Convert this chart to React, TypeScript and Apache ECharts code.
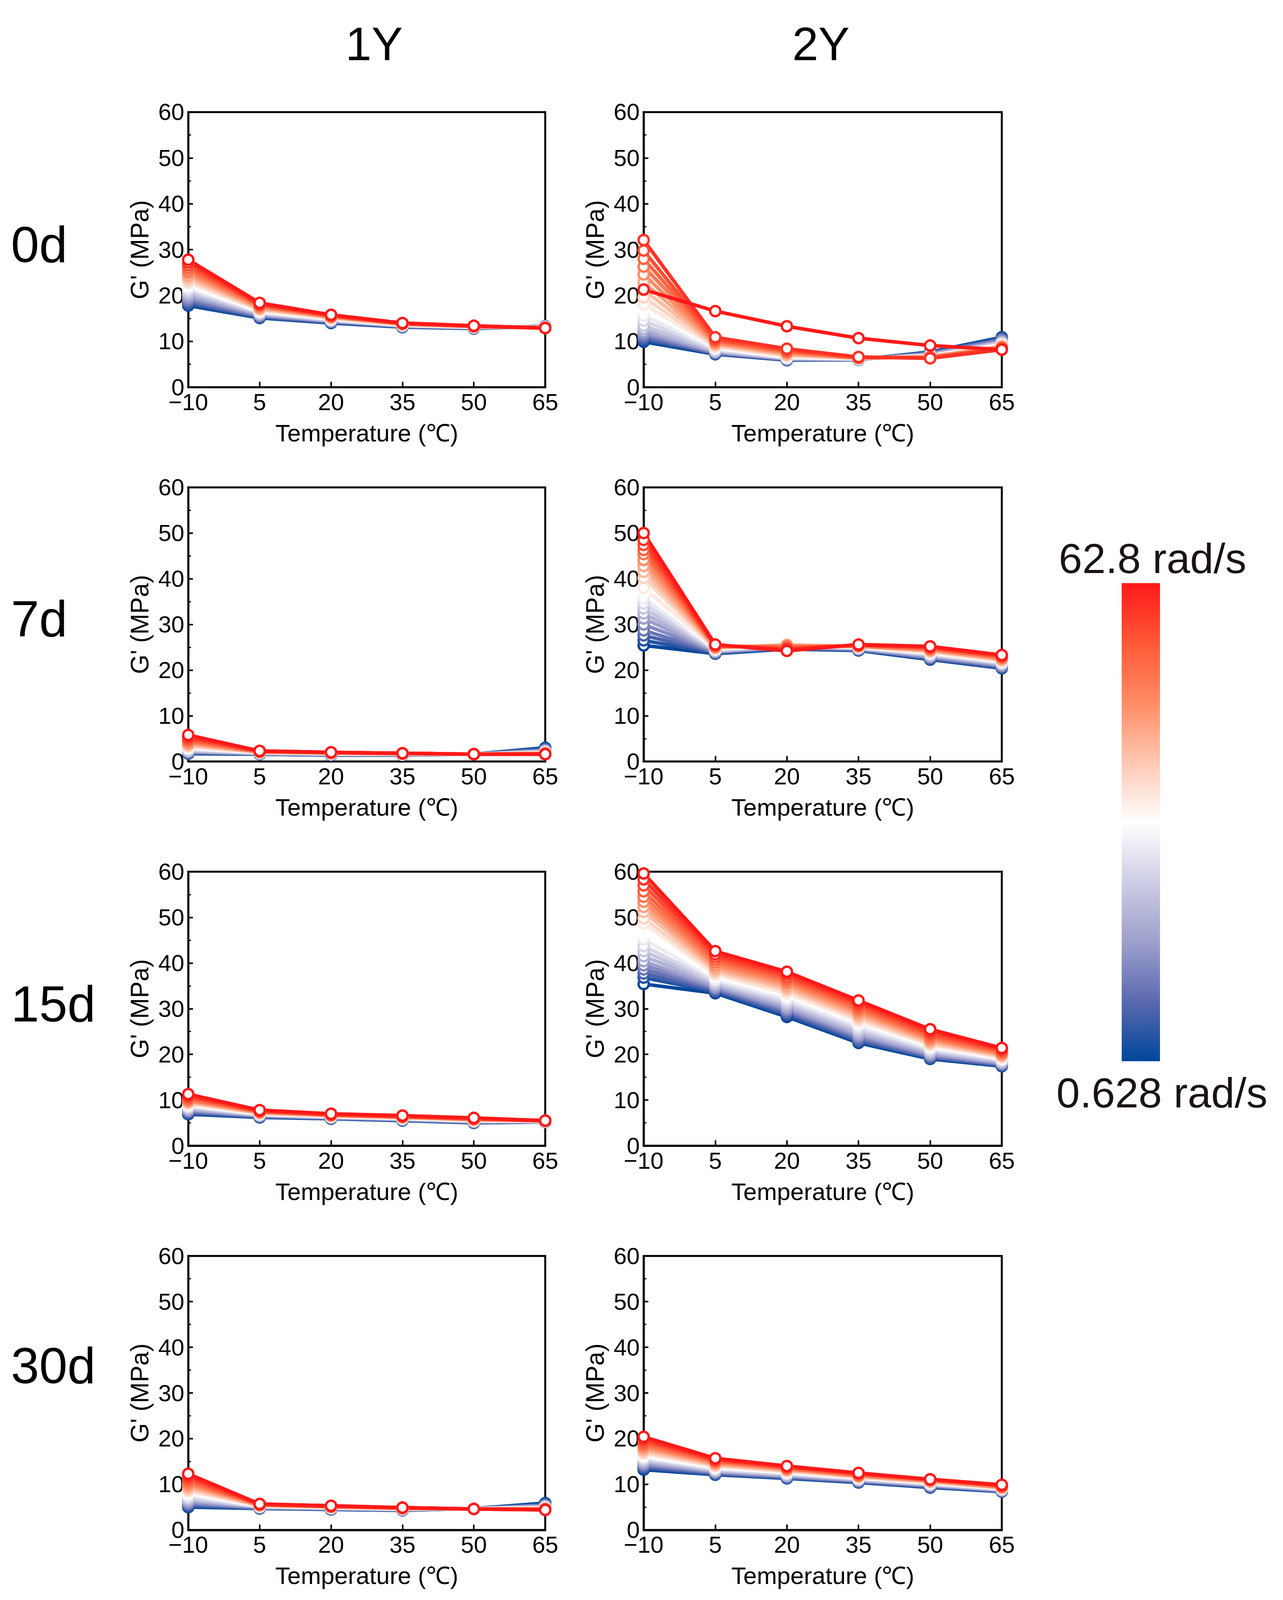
import React, { useEffect, useRef } from 'react';
import * as echarts from 'echarts';

// temperatures (°C) shown on every x axis
const temps = ['\u221210', '5', '20', '35', '50', '65'];
// 21 angular frequencies, 0.628 -> 62.8 rad/s (index 0 = blue, 20 = red)
const N_FREQ = 21;

// each panel: one row per temperature, 21 values (0.628 ... 62.8 rad/s)
const g1Y_0d = [
  [17.8, 18.1, 18.5, 18.9, 19.4, 19.8, 20.3, 20.7, 21.2, 21.6, 22.1, 22.7, 23.2, 23.8, 24.3, 24.9, 25.4, 26.0, 26.6, 27.2, 27.8],
  [15.1, 15.2, 15.4, 15.5, 15.7, 15.8, 16.0, 16.1, 16.3, 16.4, 16.6, 16.8, 16.9, 17.1, 17.3, 17.5, 17.7, 17.9, 18.0, 18.2, 18.4],
  [14.0, 14.1, 14.2, 14.3, 14.4, 14.5, 14.5, 14.6, 14.7, 14.8, 14.9, 15.0, 15.1, 15.2, 15.3, 15.4, 15.4, 15.5, 15.6, 15.7, 15.8],
  [13.1, 13.2, 13.2, 13.3, 13.3, 13.4, 13.4, 13.4, 13.5, 13.5, 13.6, 13.6, 13.7, 13.7, 13.8, 13.8, 13.8, 13.9, 13.9, 14.0, 14.0],
  [12.8, 12.9, 12.9, 12.9, 13.0, 13.0, 13.0, 13.1, 13.1, 13.1, 13.1, 13.2, 13.2, 13.2, 13.2, 13.3, 13.3, 13.3, 13.3, 13.4, 13.4],
  [13.3, 13.3, 13.3, 13.2, 13.2, 13.2, 13.2, 13.1, 13.1, 13.1, 13.1, 13.1, 13.0, 13.0, 13.0, 13.0, 13.0, 12.9, 12.9, 12.9, 12.9],
];
const g2Y_0d = [
  [9.9, 10.3, 10.7, 11.1, 11.6, 12.1, 12.7, 13.4, 14.5, 15.6, 16.9, 18.1, 19.6, 21.2, 22.9, 24.6, 26.3, 28.0, 29.8, 32.1, 21.3],
  [7.2, 7.3, 7.4, 7.5, 7.6, 7.7, 7.9, 8.0, 8.2, 8.4, 8.6, 8.8, 9.0, 9.3, 9.5, 9.7, 10.0, 10.2, 10.5, 10.9, 16.6],
  [5.9, 6.0, 6.0, 6.1, 6.1, 6.2, 6.3, 6.3, 6.4, 6.5, 6.6, 6.8, 6.9, 7.1, 7.3, 7.5, 7.7, 7.9, 8.1, 8.4, 13.3],
  [6.0, 6.0, 6.0, 6.0, 6.1, 6.1, 6.1, 6.1, 6.2, 6.2, 6.2, 6.3, 6.3, 6.3, 6.4, 6.4, 6.4, 6.5, 6.5, 6.6, 10.7],
  [7.7, 7.6, 7.5, 7.4, 7.3, 7.2, 7.1, 7.0, 6.9, 6.9, 6.8, 6.8, 6.7, 6.7, 6.6, 6.6, 6.5, 6.5, 6.4, 6.3, 9.1],
  [10.9, 10.7, 10.5, 10.3, 10.1, 9.9, 9.8, 9.6, 9.5, 9.3, 9.2, 9.1, 9.0, 8.9, 8.8, 8.7, 8.6, 8.5, 8.4, 8.2, 8.2],
];
const g1Y_7d = [
  [1.7, 1.8, 1.9, 2.0, 2.1, 2.2, 2.3, 2.5, 2.6, 2.8, 3.0, 3.2, 3.4, 3.6, 3.9, 4.1, 4.4, 4.7, 5.0, 5.4, 5.8],
  [1.6, 1.6, 1.7, 1.7, 1.7, 1.8, 1.8, 1.8, 1.9, 1.9, 1.9, 2.0, 2.0, 2.0, 2.1, 2.1, 2.1, 2.2, 2.2, 2.3, 2.3],
  [1.4, 1.4, 1.5, 1.5, 1.5, 1.6, 1.6, 1.6, 1.7, 1.7, 1.7, 1.8, 1.8, 1.8, 1.8, 1.9, 1.9, 1.9, 2.0, 2.0, 2.0],
  [1.4, 1.4, 1.4, 1.5, 1.5, 1.5, 1.5, 1.6, 1.6, 1.6, 1.6, 1.6, 1.7, 1.7, 1.7, 1.7, 1.7, 1.8, 1.8, 1.8, 1.8],
  [1.6, 1.6, 1.6, 1.6, 1.6, 1.6, 1.6, 1.6, 1.6, 1.6, 1.6, 1.6, 1.6, 1.6, 1.6, 1.6, 1.6, 1.6, 1.6, 1.6, 1.6],
  [3.0, 2.8, 2.6, 2.5, 2.4, 2.3, 2.2, 2.1, 2.0, 2.0, 1.9, 1.9, 1.8, 1.8, 1.8, 1.7, 1.7, 1.7, 1.6, 1.6, 1.6],
];
const g2Y_7d = [
  [25.4, 26.5, 27.6, 28.7, 30.0, 31.3, 32.4, 33.5, 34.6, 35.7, 37.1, 38.0, 40.2, 41.5, 42.8, 44.1, 45.4, 46.3, 47.4, 48.5, 50.0],
  [23.6, 23.7, 23.8, 23.9, 24.0, 24.1, 24.2, 24.3, 24.4, 24.5, 24.6, 24.7, 24.8, 24.9, 25.0, 25.1, 25.2, 25.3, 25.4, 25.5, 25.6],
  [24.6, 24.7, 24.8, 24.9, 25.0, 25.1, 25.2, 25.3, 25.4, 25.5, 25.6, 25.6, 25.6, 25.5, 25.4, 25.3, 25.1, 24.9, 24.7, 24.5, 24.2],
  [24.3, 24.4, 24.5, 24.5, 24.6, 24.7, 24.8, 24.8, 24.9, 25.0, 25.0, 25.1, 25.1, 25.2, 25.2, 25.3, 25.3, 25.4, 25.5, 25.5, 25.6],
  [22.3, 22.4, 22.6, 22.7, 22.9, 23.0, 23.2, 23.3, 23.5, 23.6, 23.8, 23.9, 24.1, 24.2, 24.3, 24.5, 24.6, 24.8, 24.9, 25.1, 25.2],
  [20.4, 20.5, 20.7, 20.8, 21.0, 21.1, 21.3, 21.4, 21.6, 21.7, 21.9, 22.0, 22.1, 22.3, 22.4, 22.6, 22.7, 22.9, 23.0, 23.2, 23.3],
];
const g1Y_15d = [
  [6.9, 7.1, 7.3, 7.5, 7.7, 7.9, 8.1, 8.3, 8.5, 8.7, 8.9, 9.1, 9.3, 9.5, 9.7, 9.9, 10.1, 10.4, 10.7, 11.0, 11.3],
  [6.2, 6.3, 6.4, 6.5, 6.5, 6.6, 6.7, 6.8, 6.8, 6.9, 7.0, 7.1, 7.1, 7.2, 7.3, 7.4, 7.4, 7.5, 7.6, 7.7, 7.8],
  [5.9, 6.0, 6.0, 6.1, 6.1, 6.2, 6.2, 6.3, 6.3, 6.4, 6.4, 6.5, 6.5, 6.6, 6.6, 6.7, 6.7, 6.8, 6.8, 6.9, 7.0],
  [5.5, 5.6, 5.6, 5.7, 5.7, 5.8, 5.8, 5.9, 5.9, 6.0, 6.0, 6.1, 6.1, 6.2, 6.2, 6.3, 6.3, 6.4, 6.4, 6.5, 6.6],
  [5.0, 5.1, 5.1, 5.2, 5.2, 5.3, 5.3, 5.4, 5.4, 5.5, 5.5, 5.6, 5.6, 5.7, 5.7, 5.8, 5.8, 5.9, 5.9, 6.0, 6.1],
  [5.2, 5.2, 5.2, 5.2, 5.3, 5.3, 5.3, 5.3, 5.3, 5.3, 5.4, 5.4, 5.4, 5.4, 5.4, 5.4, 5.5, 5.5, 5.5, 5.5, 5.5],
];
const g2Y_15d = [
  [35.4, 36.8, 37.7, 38.6, 39.5, 40.4, 41.5, 42.6, 43.7, 45.2, 46.3, 48.7, 49.8, 51.2, 52.3, 53.4, 54.5, 55.7, 57.0, 58.3, 59.6],
  [33.4, 33.7, 34.0, 34.3, 34.6, 34.9, 35.3, 35.6, 36.0, 36.4, 36.9, 37.4, 37.9, 38.4, 38.9, 39.5, 40.1, 40.7, 41.3, 41.9, 42.6],
  [28.2, 28.6, 29.0, 29.4, 29.8, 30.2, 30.7, 31.1, 31.6, 32.1, 32.7, 33.3, 33.9, 34.4, 34.9, 35.5, 36.0, 36.5, 37.0, 37.6, 38.1],
  [22.5, 22.8, 23.1, 23.5, 23.9, 24.3, 24.7, 25.2, 25.7, 26.2, 26.8, 27.3, 27.8, 28.3, 28.8, 29.3, 29.8, 30.3, 30.8, 31.3, 31.8],
  [19.0, 19.2, 19.4, 19.6, 19.9, 20.1, 20.4, 20.7, 21.0, 21.3, 21.7, 22.0, 22.3, 22.6, 23.0, 23.3, 23.7, 24.1, 24.5, 25.0, 25.5],
  [17.4, 17.5, 17.7, 17.8, 18.0, 18.1, 18.3, 18.5, 18.7, 18.9, 19.1, 19.3, 19.5, 19.7, 19.9, 20.1, 20.4, 20.6, 20.9, 21.1, 21.4],
];
const g1Y_30d = [
  [5.0, 5.2, 5.5, 5.7, 6.0, 6.3, 6.6, 6.9, 7.2, 7.6, 8.0, 8.4, 8.8, 9.2, 9.6, 10.0, 10.4, 10.8, 11.3, 11.8, 12.3],
  [4.7, 4.8, 4.8, 4.9, 4.9, 5.0, 5.0, 5.1, 5.1, 5.2, 5.2, 5.3, 5.3, 5.4, 5.4, 5.5, 5.5, 5.6, 5.6, 5.7, 5.7],
  [4.5, 4.5, 4.6, 4.6, 4.7, 4.7, 4.8, 4.8, 4.8, 4.9, 4.9, 5.0, 5.0, 5.0, 5.1, 5.1, 5.1, 5.2, 5.2, 5.3, 5.3],
  [4.3, 4.3, 4.4, 4.4, 4.4, 4.5, 4.5, 4.5, 4.6, 4.6, 4.6, 4.7, 4.7, 4.7, 4.7, 4.8, 4.8, 4.8, 4.9, 4.9, 4.9],
  [4.7, 4.7, 4.7, 4.7, 4.7, 4.7, 4.7, 4.7, 4.7, 4.7, 4.6, 4.6, 4.6, 4.6, 4.6, 4.6, 4.6, 4.6, 4.6, 4.6, 4.6],
  [5.9, 5.7, 5.5, 5.4, 5.3, 5.2, 5.1, 5.0, 4.9, 4.9, 4.8, 4.8, 4.7, 4.7, 4.6, 4.6, 4.5, 4.5, 4.5, 4.4, 4.4],
];
const g2Y_30d = [
  [13.2, 13.5, 13.8, 14.1, 14.4, 14.7, 15.0, 15.3, 15.6, 15.9, 16.2, 16.6, 17.0, 17.4, 17.8, 18.2, 18.6, 19.0, 19.5, 19.9, 20.4],
  [12.1, 12.2, 12.4, 12.5, 12.7, 12.8, 13.0, 13.1, 13.3, 13.5, 13.7, 13.9, 14.1, 14.3, 14.5, 14.7, 14.9, 15.1, 15.3, 15.5, 15.7],
  [11.3, 11.4, 11.5, 11.6, 11.8, 11.9, 12.0, 12.2, 12.3, 12.5, 12.6, 12.8, 12.9, 13.1, 13.2, 13.4, 13.5, 13.6, 13.8, 13.9, 14.0],
  [10.4, 10.5, 10.6, 10.7, 10.8, 10.9, 11.0, 11.1, 11.2, 11.3, 11.4, 11.5, 11.6, 11.7, 11.8, 11.9, 12.0, 12.1, 12.3, 12.4, 12.5],
  [9.3, 9.4, 9.5, 9.6, 9.7, 9.8, 9.9, 10.0, 10.1, 10.2, 10.3, 10.4, 10.5, 10.6, 10.7, 10.8, 10.9, 11.0, 11.0, 11.1, 11.1],
  [8.4, 8.5, 8.5, 8.6, 8.7, 8.7, 8.8, 8.9, 8.9, 9.0, 9.1, 9.1, 9.2, 9.3, 9.3, 9.4, 9.5, 9.6, 9.7, 9.8, 9.9],
];

const columnTitles = ['1Y', '2Y'];
const rowTitles = ['0d', '7d', '15d', '30d'];
const panels = [
  [g1Y_0d, g2Y_0d],
  [g1Y_7d, g2Y_7d],
  [g1Y_15d, g2Y_15d],
  [g1Y_30d, g2Y_30d],
];

const W = 3285;
const H = 4297;
const FONT = '"Liberation Sans", Arial, Helvetica, sans-serif';

// layout in page pixels (for a 4297 px tall page)
const colLeft = [482, 1648];
const colWidth = [914, 917];
const rowTop = [301, 1309, 2341, 3373];
const rowHeight = [739, 736, 736, 736];
const colTitleX = [958, 2102];
const rowTitleY = [657, 1662, 2696, 3668];

// colour map of the colour bar, blue (0) -> white -> red (1)
const cmap: [number, number[]][] = [
  [0, [0, 70, 155]],
  [0.125, [90, 105, 175]],
  [0.25, [158, 160, 205]],
  [0.375, [205, 205, 228]],
  [0.5, [255, 255, 255]],
  [0.625, [255, 200, 178]],
  [0.75, [255, 140, 100]],
  [0.875, [255, 88, 55]],
  [1, [255, 25, 25]],
];

const colorAt = (t: number) => {
  for (let k = 1; k < cmap.length; k++) {
    if (t <= cmap[k][0]) {
      const [t0, c0] = cmap[k - 1];
      const [t1, c1] = cmap[k];
      const f = (t - t0) / (t1 - t0);
      const c = c0.map((v, j) => Math.round(v + (c1[j] - v) * f));
      return `rgb(${c[0]},${c[1]},${c[2]})`;
    }
  }
  return 'rgb(255,25,25)';
};

// the window only shows 4096 px of height, so squeeze the layout vertically to fit
const fitY = () => Math.min(1, (window.innerHeight || H) / H);

const App: React.FC = () => {
  const chartRef = useRef<HTMLDivElement | null>(null);
  const sy = fitY();

  useEffect(() => {
    document.body.style.margin = '0';
    if (!chartRef.current) return;
    const chart = echarts.init(chartRef.current, undefined, { renderer: 'svg' });

    const grids: any[] = [];
    const xAxes: any[] = [];
    const yAxes: any[] = [];
    const series: any[] = [];

    panels.forEach((row, r) => {
      row.forEach((panel, c) => {
        const idx = grids.length;
        grids.push({
          left: colLeft[c],
          top: rowTop[r] * sy,
          width: colWidth[c],
          height: rowHeight[r] * sy,
          show: true,
          borderColor: '#000',
          borderWidth: 5,
          backgroundColor: 'transparent',
        });
        xAxes.push({
          type: 'category',
          gridIndex: idx,
          data: temps,
          boundaryGap: false,
          axisLine: { show: true, lineStyle: { color: '#000', width: 5 } },
          axisTick: { show: true, inside: true, length: 14, alignWithLabel: true, lineStyle: { color: '#000', width: 4 } },
          axisLabel: { color: '#000', fontSize: 60, fontFamily: FONT, margin: 8, interval: 0 },
          splitLine: { show: false },
          name: 'Temperature (\u2103)',
          nameLocation: 'middle',
          nameGap: 86,
          nameTextStyle: { color: '#000', fontSize: 62, fontFamily: FONT },
        });
        yAxes.push({
          type: 'value',
          gridIndex: idx,
          min: 0,
          max: 60,
          interval: 10,
          axisLine: { show: true, lineStyle: { color: '#000', width: 5 } },
          axisTick: { show: true, inside: true, length: 12, lineStyle: { color: '#000', width: 4 } },
          minorTick: { show: true, splitNumber: 2, length: 7, lineStyle: { color: '#000', width: 3 } },
          axisLabel: { color: '#000', fontSize: 60, fontFamily: FONT, margin: 10 },
          splitLine: { show: false },
          name: "G' (MPa)",
          nameLocation: 'middle',
          nameGap: 92,
          nameTextStyle: { color: '#000', fontSize: 64, fontFamily: FONT },
        });
        for (let i = 0; i < N_FREQ; i++) {
          const col = colorAt(i / (N_FREQ - 1));
          series.push({
            type: 'line',
            xAxisIndex: idx,
            yAxisIndex: idx,
            data: panel.map((vals) => vals[i]),
            symbol: 'circle',
            symbolSize: 26,
            showSymbol: true,
            lineStyle: { color: col, width: 9 },
            itemStyle: { color: '#fff', borderColor: col, borderWidth: 6 },
            emphasis: { disabled: true },
            silent: true,
          });
        }
      });
    });

    const graphic: any[] = [];
    columnTitles.forEach((t, c) => {
      graphic.push({
        type: 'text',
        x: colTitleX[c],
        y: 118 * sy,
        style: { text: t, fill: '#000', font: `120px ${FONT}`, textAlign: 'center', textVerticalAlign: 'middle' },
      });
    });
    rowTitles.forEach((t, r) => {
      graphic.push({
        type: 'text',
        x: 28,
        y: rowTitleY[r] * sy,
        style: { text: t, fill: '#000', font: `130px ${FONT}`, textAlign: 'left', textVerticalAlign: 'middle' },
      });
    });
    // colour bar
    graphic.push({
      type: 'rect',
      shape: { x: 2872, y: 1566 * sy, width: 98, height: 1284 * sy },
      style: {
        fill: new echarts.graphic.LinearGradient(
          0, 0, 0, 1,
          cmap.map(([t]) => ({ offset: 1 - t, color: colorAt(t) })).reverse()
        ),
      },
    });
    graphic.push({
      type: 'text',
      x: 2951,
      y: 1500 * sy,
      style: { text: '62.8 rad/s', fill: '#1a1311', font: `108px ${FONT}`, textAlign: 'center', textVerticalAlign: 'middle' },
    });
    graphic.push({
      type: 'text',
      x: 2975,
      y: 2935 * sy,
      style: { text: '0.628 rad/s', fill: '#1a1311', font: `108px ${FONT}`, textAlign: 'center', textVerticalAlign: 'middle' },
    });

    chart.setOption({
      animation: false,
      backgroundColor: '#fff',
      grid: grids,
      xAxis: xAxes,
      yAxis: yAxes,
      series,
      graphic,
    });

    return () => {
      chart.dispose();
    };
  }, [sy]);

  return <div ref={chartRef} style={{ width: `${W}px`, height: `${Math.floor(H * sy)}px`, margin: 0 }} />;
};

export default App;
